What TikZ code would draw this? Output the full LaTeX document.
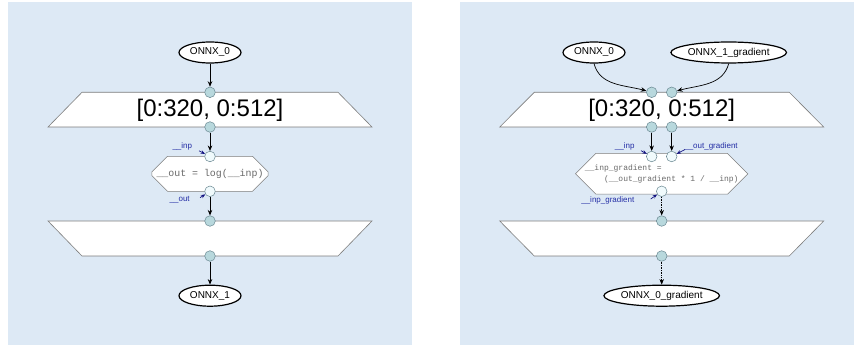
\documentclass[tikz,border=0pt]{standalone}
\usepackage{fontspec}
\setmainfont{Liberation Sans}
\newfontfamily\codefont{Liberation Mono}
\usetikzlibrary{arrows.meta,shapes.geometric,shapes.misc}
\definecolor{bgc}{RGB}{221,233,245}
\definecolor{portfill}{RGB}{184,216,221}
\definecolor{portdraw}{RGB}{105,135,145}
\definecolor{iportfill}{RGB}{240,250,252}
\definecolor{trapdraw}{RGB}{125,125,125}
\definecolor{codec}{RGB}{105,105,105}
\definecolor{lblc}{RGB}{35,45,165}
\definecolor{larrc}{RGB}{20,20,130}
\tikzset{
  x=1pt, y=-1pt,
  ellnode/.style={ellipse, draw=black, line width=1.2pt, fill=white, inner sep=0pt,
    minimum height=21pt, font=\fontsize{10}{10}\selectfont},
  trapbox/.style={draw=trapdraw, fill=white, line width=0.6pt},
  port/.style={circle, draw=portdraw, fill=portfill, line width=0.5pt, inner sep=0pt, minimum size=10.6pt},
  iport/.style={circle, draw=portdraw, fill=iportfill, line width=0.5pt, inner sep=0pt, minimum size=10.6pt},
  opbox/.style={chamfered rectangle, chamfered rectangle xsep=11pt, chamfered rectangle ysep=11pt,
    draw=trapdraw, fill=white, line width=0.5pt,
    inner sep=0pt, minimum height=35pt, text=codec},
  bigtxt/.style={font=\fontsize{24}{24}\selectfont, inner sep=0pt},
  lbl/.style={text=lblc, font=\fontsize{8}{8}\selectfont, inner sep=0pt},
  arr/.style={-{Stealth[length=5.5pt,width=4.5pt]}, line width=0.7pt, black},
  darr/.style={arr, densely dotted},
  larr/.style={-{Stealth[length=4.5pt,width=3.5pt]}, line width=0.7pt, larrc},
}
\begin{document}
\begin{tikzpicture}
\useasboundingbox (0,0) rectangle (854,347);
\fill[bgc] (8,2) rectangle (412,345);
\fill[bgc] (460,2) rectangle (854,345);

% ---------------- left panel ----------------
\node[ellnode, minimum width=62pt] (l0) at (210,52.5) {ONNX\_0};
\draw[trapbox] (82,92.3) -- (338,92.3) -- (372,127) -- (48,127) -- cycle;
\node[bigtxt] (lt) at (210,110) {[0:320, 0:512]};
\node[port] (lp1) at (210,92.3) {};
\node[port] (lp2) at (210,127) {};
\node[opbox, minimum width=115pt, font=\codefont\fontsize{9.9}{10}\selectfont] (lop) at (210,173.8)
  {\_\_out = log(\_\_inp)};
\node[iport] (li) at (210,156.5) {};
\node[iport] (lo) at (210,191.3) {};
\draw[trapbox] (48,221) -- (372,221) -- (338,256) -- (82,256) -- cycle;
\node[port] (lp3) at (210,221) {};
\node[port] (lp4) at (210,256) {};
\node[ellnode, minimum width=62pt] (l1) at (210,295.7) {ONNX\_1};

\draw[arr] (l0) -- (lp1);
\draw[arr] (lp2) -- (li);
\draw[arr] (lo) -- (lp3);
\draw[arr] (lp4) -- (l1);

\node[lbl] (linp) at (182.3,146.7) {\_\_inp};
\coordinate (la1) at (199,150.8);
\draw[larr] (la1) -- (li);
\node[lbl] (lout) at (179.7,199.3) {\_\_out};
\coordinate (la2) at (200,197.7);
\draw[larr] (la2) -- (lo);

% ---------------- right panel ----------------
\node[ellnode, minimum width=62pt] (r0) at (594,52.5) {ONNX\_0};
\node[ellnode, minimum width=110pt] (r1) at (728.7,52.5) {ONNX\_1\_gradient};
\draw[trapbox] (534.3,92.3) -- (789.3,92.3) -- (823.7,127) -- (499.7,127) -- cycle;
\node[bigtxt] (rt) at (661.7,110) {[0:320, 0:512]};
\node[port] (ra) at (651.7,92.3) {};
\node[port] (rb) at (671.7,92.3) {};
\node[port] (rc) at (651.7,127) {};
\node[port] (rd) at (671.7,127) {};
\node[opbox, minimum width=167pt, align=left, font=\codefont\fontsize{8}{11.3}\selectfont] (rop) at (661.7,173.8)
  {\_\_inp\_gradient =\\
   \phantom{xxxx}(\_\_out\_gradient * 1 / \_\_inp)};
\node[iport] (ri1) at (651.7,156.5) {};
\node[iport] (ri2) at (671.7,156.5) {};
\node[iport] (ro) at (661.7,191.3) {};
\draw[trapbox] (499.7,221) -- (823.7,221) -- (789.3,256) -- (534.3,256) -- cycle;
\node[port] (re) at (661.7,221) {};
\node[port] (rf) at (661.7,256) {};
\node[ellnode, minimum width=109pt] (r2) at (661.7,295.7) {ONNX\_0\_gradient};

\draw[arr] (r0.south) to[out=-75, in=165] (ra);
\draw[arr] (r1.south) to[out=-105, in=15] (rb);
\draw[arr] (rc) -- (ri1);
\draw[arr] (rd) -- (ri2);
\draw[darr] (ro) -- (re);
\draw[darr] (rf) -- (r2);

\node[lbl] (rinp) at (624.7,146.2) {\_\_inp};
\coordinate (ra1) at (641,150.7);
\draw[larr] (ra1) -- (ri1);
\node[lbl] (rog) at (711,146.2) {\_\_out\_gradient};
\coordinate (ra2) at (685,149.5);
\draw[larr] (ra2) -- (ri2);
\node[lbl] (rig) at (607.8,200.7) {\_\_inp\_gradient};
\coordinate (ra3) at (650.7,199);
\draw[larr] (ra3) -- (ro);
\end{tikzpicture}
\end{document}
